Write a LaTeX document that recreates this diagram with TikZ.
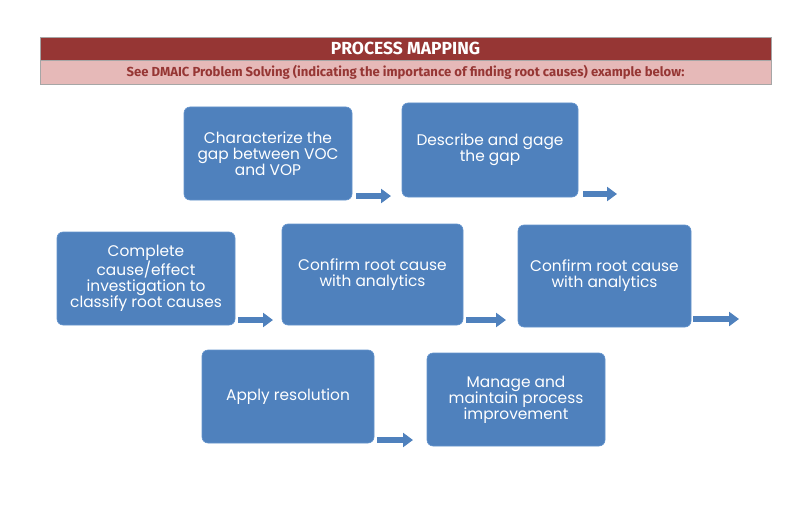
\documentclass[tikz,border=0pt]{standalone}
\usepackage{fontspec}
\setmainfont{Poppins}
\newfontfamily\headfont{Fira Sans}
\usetikzlibrary{arrows.meta}
\definecolor{darkred}{RGB}{150,54,52}
\definecolor{lightred}{RGB}{230,185,184}
\definecolor{stepblue}{RGB}{79,129,189}
\definecolor{stepedge}{RGB}{100,148,205}
\pgfdeclarelayer{edgelayer}
\pgfdeclarelayer{nodelayer}
\pgfsetlayers{edgelayer,nodelayer,main}
\tikzstyle{none}=[inner sep=0pt]
\tikzstyle{title}=[fill=darkred, draw=black!35, minimum width=731, minimum height=23, inner sep=0pt, text=white, font=\headfont\bfseries\fontsize{17.5}{17.5}\selectfont]
\tikzstyle{subtitle}=[fill=lightred, draw=black!35, minimum width=731, minimum height=24, inner sep=0pt, text=darkred, font=\headfont\bfseries\fontsize{13.1}{13.1}\selectfont]
\tikzstyle{stepbox}=[rectangle, rounded corners=6, fill=stepblue, draw=stepedge, line width=0.6, text=white, align=center, inner sep=0pt, font=\fontsize{15.4}{16}\selectfont]
\tikzstyle{blockarrow}=[draw=stepblue, line width=6.5, -{Triangle[width=14, length=10]}]

\begin{document}
\begin{tikzpicture}[x=1pt, y=-1pt]
			\useasboundingbox (0, 0) rectangle (800, 516);
			\begin{pgfonlayer}{nodelayer}
			\node [style=title] (0) at (405.5, 48.5) {PROCESS MAPPING};
			\node [style=subtitle] (1) at (405.5, 72) {See DMAIC Problem Solving (indicating the importance of finding root causes) example below:};
			\node [style=stepbox, minimum width=168, minimum height=93] (2) at (268, 153.5) {Characterize the\\gap between VOC\\and VOP};
			\node [style=stepbox, minimum width=176, minimum height=94] (3) at (490, 150) {Describe and gage\\the gap};
			\node [style=stepbox, minimum width=178, minimum height=93] (4) at (146, 278.5) {Complete\\cause/effect\\investigation to\\classify root causes};
			\node [style=stepbox, minimum width=181, minimum height=101] (5) at (372.5, 274.5) {Confirm root cause\\with analytics};
			\node [style=stepbox, minimum width=173, minimum height=102] (6) at (604.5, 276) {Confirm root cause\\with analytics};
			\node [style=stepbox, minimum width=172, minimum height=93] (7) at (288, 396.5) {Apply resolution};
			\node [style=stepbox, minimum width=178, minimum height=93] (8) at (516, 399.5) {Manage and\\maintain process\\improvement};
			\coordinate (10) at (356, 196);
			\coordinate (11) at (391, 196);
			\coordinate (12) at (583, 194);
			\coordinate (13) at (617, 194);
			\coordinate (14) at (238, 320);
			\coordinate (15) at (273, 320);
			\coordinate (16) at (466, 320);
			\coordinate (17) at (506, 320);
			\coordinate (18) at (693, 319);
			\coordinate (19) at (739, 319);
			\coordinate (20) at (377, 440);
			\coordinate (21) at (413, 440);
			\end{pgfonlayer}
			\begin{pgfonlayer}{edgelayer}
			\draw [style=blockarrow] (10) to (11);
			\draw [style=blockarrow] (12) to (13);
			\draw [style=blockarrow] (14) to (15);
			\draw [style=blockarrow] (16) to (17);
			\draw [style=blockarrow] (18) to (19);
			\draw [style=blockarrow] (20) to (21);
			\end{pgfonlayer}
\end{tikzpicture}
\end{document}
